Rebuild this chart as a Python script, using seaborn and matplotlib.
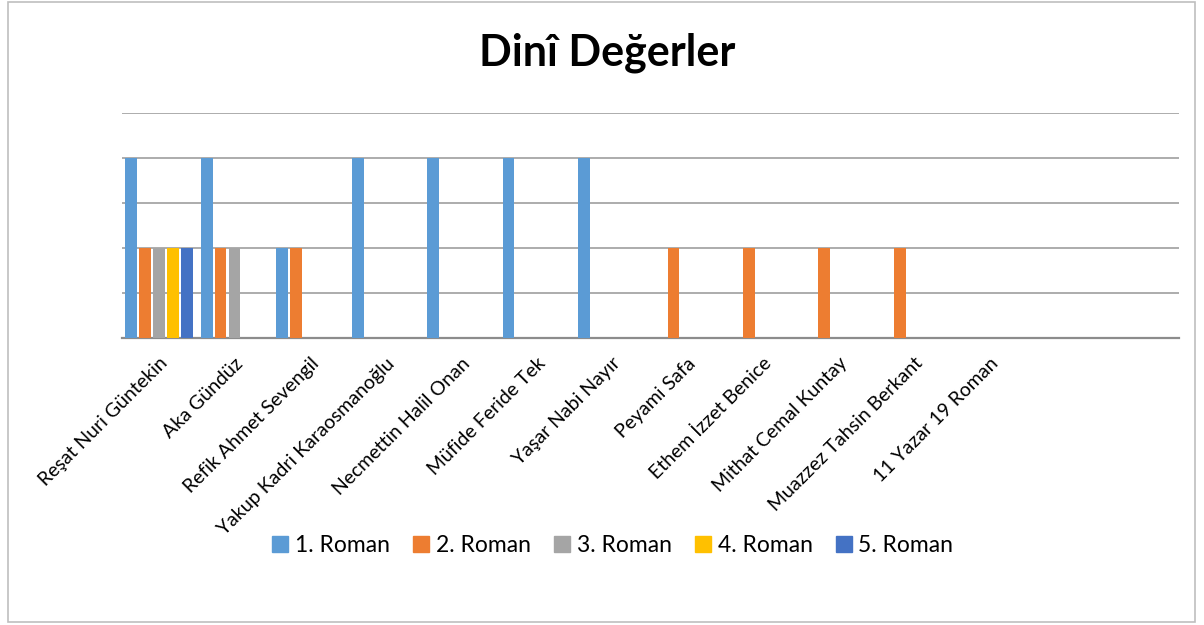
import numpy as np
import pandas as pd
import matplotlib
matplotlib.use("Agg")
import matplotlib.pyplot as plt
import seaborn as sns
from matplotlib.patches import Rectangle

# Data (no value axis labels, gridline step = 1)
authors = ["Reşat Nuri Güntekin", "Aka Gündüz", "Refik Ahmet Sevengil",
           "Yakup Kadri Karaosmanoğlu", "Necmettin Halil Onan", "Müfide Feride Tek",
           "Yaşar Nabi Nayır", "Peyami Safa", "Ethem İzzet Benice",
           "Mithat Cemal Kuntay", "Muazzez Tahsin Berkant", "11 Yazar 19 Roman"]
series = ["1. Roman", "2. Roman", "3. Roman", "4. Roman", "5. Roman"]
nan = np.nan
roman1 = [4, 4, 2, 4, 4, 4, 4, nan, nan, nan, nan, nan]
roman2 = [2, 2, 2, nan, nan, nan, nan, 2, 2, 2, 2, nan]
roman3 = [2, 2, nan, nan, nan, nan, nan, nan, nan, nan, nan, nan]
roman4 = [2, nan, nan, nan, nan, nan, nan, nan, nan, nan, nan, nan]
roman5 = [2, nan, nan, nan, nan, nan, nan, nan, nan, nan, nan, nan]
colors = ["#5B9BD5", "#ED7D31", "#A5A5A5", "#FFC000", "#4472C4"]

rows = []
for name, vals in zip(series, [roman1, roman2, roman3, roman4, roman5]):
    for a, v in zip(authors, vals):
        rows.append({"Yazar": a, "Seri": name, "Deger": v})
df = pd.DataFrame(rows)

sns.set_style("white")
plt.rcParams["font.family"] = ["Lato", "DejaVu Sans"]
plt.rcParams["text.color"] = "black"

fig = plt.figure(figsize=(12.04, 6.25), dpi=100)
ax = fig.add_axes([0.1013, 0.4592, 0.8777, 0.36])

sns.barplot(data=df, x="Yazar", y="Deger", hue="Seri", order=authors,
            hue_order=series, palette=colors, width=0.92, gap=0.15,
            saturation=1, linewidth=0, errorbar=None, ax=ax, zorder=3, legend=True)

ax.set_xlim(-0.49, 13.51)
ax.set_ylim(0, 5)
ax.set_yticks([1, 2, 3, 4, 5])
ax.set_yticklabels([])
ax.yaxis.grid(True, color="#a6a6a6", linewidth=1.3, zorder=0)
ax.tick_params(axis="both", length=0)
ax.tick_params(axis="x", pad=12)
for s in ["top", "right", "left"]:
    ax.spines[s].set_visible(False)
ax.spines["bottom"].set_color("#8c8c8c")
ax.spines["bottom"].set_linewidth(1.6)
ax.set_xlabel("")
ax.set_ylabel("")
plt.setp(ax.get_xticklabels(), rotation=45, ha="right", rotation_mode="anchor",
         fontsize=14, color="black")

ax.legend_.remove()
handles = [Rectangle((0, 0), 1, 1, color=c) for c in colors]
fig.legend(handles, series, loc="center", bbox_to_anchor=(0.509, 0.127), ncol=5,
           frameon=False, fontsize=16.5, handlelength=0.7, handleheight=0.7,
           handletextpad=0.3, columnspacing=1.0, labelcolor="black")

fig.text(0.504, 0.916, "Dinî Değerler", ha="center", va="center",
         fontsize=31, fontweight="bold", color="black")

fig.patches.append(Rectangle((0.0066, 0.0048), 0.986, 0.992, transform=fig.transFigure,
                             fill=False, edgecolor="#bfbfbf", linewidth=1.2))

fig.savefig("out.png", dpi=100)
